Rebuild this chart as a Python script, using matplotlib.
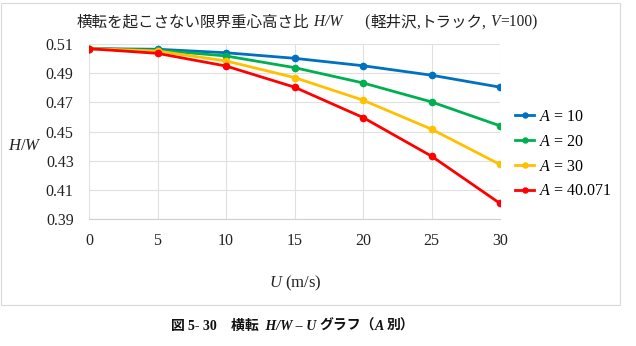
import matplotlib
matplotlib.use("Agg")
import matplotlib.pyplot as plt
from matplotlib.patches import Rectangle
from matplotlib.offsetbox import TextArea, HPacker, AnchoredOffsetbox

plt.rcParams['font.family'] = ['Liberation Serif', 'Noto Sans CJK JP']
plt.rcParams['mathtext.fontset'] = 'custom'
plt.rcParams['mathtext.rm'] = 'Liberation Serif'
plt.rcParams['mathtext.it'] = 'Liberation Serif:italic'

U = [0, 5, 10, 15, 20, 25, 30]
labels = ['$A$ = 10', '$A$ = 20', '$A$ = 30', '$A$ = 40.071']
hw_a10 = [0.5068, 0.5064, 0.5040, 0.5002, 0.4951, 0.4886, 0.4804]
hw_a20 = [0.5068, 0.5058, 0.5018, 0.4938, 0.4833, 0.4703, 0.4539]
hw_a30 = [0.5068, 0.5052, 0.4984, 0.4870, 0.4715, 0.4516, 0.4274]
hw_a40 = [0.5068, 0.5036, 0.4949, 0.4804, 0.4596, 0.4331, 0.4007]
colors = ['#0070C0', '#00B050', '#FFC000', '#FF0000']
yticks = [0.39, 0.41, 0.43, 0.45, 0.47, 0.49, 0.51]

fig = plt.figure(figsize=(6.36, 3.46), dpi=100)
W, H = 636, 346
ax = fig.add_axes([89 / W, 1 - 219 / H, (500 - 89) / W, (219 - 44) / H])

for ys, c, lab in zip([hw_a10, hw_a20, hw_a30, hw_a40], colors, labels):
    ax.plot(U, ys, color=c, lw=2.0, marker='o', ms=4.5, label=lab, zorder=3)

ax.set_xlim(0, 30)
ax.set_ylim(0.39, 0.51)
ax.set_xticks(U)
ax.set_yticks(yticks)
ax.set_yticklabels([f'{v:.2f}' for v in yticks])
ax.grid(True, color='#E0E0E0', lw=0.8)
for s in ['top', 'right', 'left']:
    ax.spines[s].set_visible(False)
ax.spines['bottom'].set_color('#D0D0D0')
ax.tick_params(length=0, labelsize=11.5, colors='#222222')
ax.tick_params(axis='y', pad=11)
ax.tick_params(axis='x', pad=10)

fig.text(25 / W, 1 - 146 / H, '$H/W$', fontsize=12, ha='center', va='center', color='#222222')
fig.text(295 / W, 1 - 283 / H, '$U$ (m/s)', fontsize=12, ha='center', va='center', color='#222222')

CJK = 'Noto Sans CJK JP'
SER = 'Liberation Serif'


def packed(parts, x, y, size, weight='normal', color='#222222'):
    areas = []
    for txt, fam, style in parts:
        areas.append(TextArea(txt, textprops=dict(family=[fam, CJK], style=style, size=size,
                                                  weight=weight, color=color)))
    box = HPacker(children=areas, align='baseline', pad=0, sep=0)
    ab = AnchoredOffsetbox(loc='center', child=box, frameon=False, pad=0, borderpad=0,
                           bbox_to_anchor=(x / W, 1 - y / H), bbox_transform=fig.transFigure)
    fig.add_artist(ab)


packed([('横転を起こさない限界重心高さ比', CJK, 'normal'),
        (' H/W', SER, 'italic'),
        ('      (', SER, 'normal'),
        ('軽井沢', CJK, 'normal'),
        (',', SER, 'normal'),
        ('トラック', CJK, 'normal'),
        (', ', SER, 'normal'),
        ('V', SER, 'italic'),
        ('=100)', SER, 'normal')], 307, 22, 11.2)

packed([('図 ', CJK, 'normal'),
        ('5- 30', SER, 'normal'),
        ('    ', SER, 'normal'),
        ('横転 ', CJK, 'normal'),
        (' H/W – U ', SER, 'italic'),
        ('グラフ（', CJK, 'normal'),
        ('A ', SER, 'italic'),
        ('別）', CJK, 'normal')], 293, 326, 10, weight='bold', color='#111111')

leg = ax.legend(loc='center left', bbox_to_anchor=(1.0, 0.37), frameon=False,
                fontsize=11.5, handlelength=1.2, handletextpad=0.3, labelspacing=0.55,
                borderaxespad=0.55, markerscale=0.8)

fig.patches.append(Rectangle((1 / W, 1 - 305 / H), 619 / W, 302 / H, transform=fig.transFigure,
                             fill=False, edgecolor='#D9D9D9', lw=0.8))

fig.savefig('out.png', dpi=100)
